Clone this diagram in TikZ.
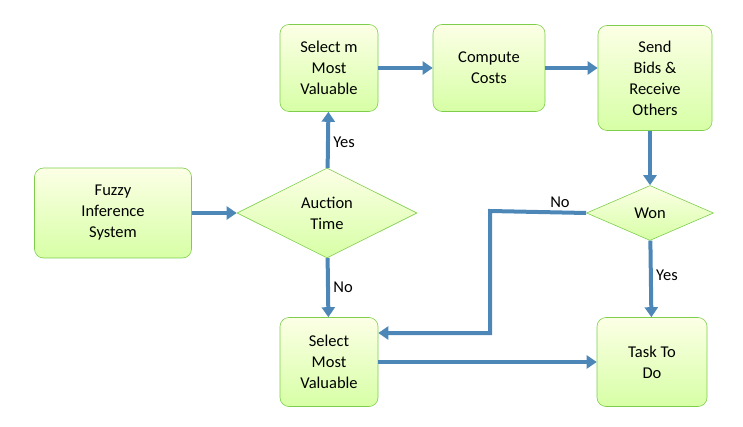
\documentclass[tikz,border=0pt]{standalone}
\usepackage{fontspec}
\setmainfont{Carlito}
\usetikzlibrary{shapes.geometric, arrows.meta}

\tikzset{
  box/.style={draw=green!45!olive!70, line width=0.6pt, rounded corners=9pt,
    top color=green!12!yellow!10, bottom color=green!45!yellow!35,
    align=center, font=\fontsize{16.5}{21}\selectfont},
  dia/.style={diamond, aspect=2.6, draw=green!45!olive!70, line width=0.6pt,
    top color=green!12!yellow!10, bottom color=green!45!yellow!35,
    align=center, inner sep=1pt, font=\fontsize{16.5}{21}\selectfont},
  flow/.style={draw=blue!45!cyan!60!black!70, line width=4pt,
    -{Triangle[length=10pt,width=13pt]}},
  lbl/.style={font=\fontsize{16.5}{21}\selectfont}
}

\begin{document}
\begin{tikzpicture}[x=1pt,y=-1pt]
  \useasboundingbox (0,0) rectangle (743,427);
  % nodes
  \node[box, minimum width=157, minimum height=90] (fis) at (113,213) {Fuzzy\\Inference\\System};
  \node[dia, minimum width=180, minimum height=90] (auction) at (327,213) {Auction\\Time};
  \node[box, minimum width=98, minimum height=87] (selm) at (329,68) {Select m\\Most\\Valuable};
  \node[box, minimum width=112, minimum height=87] (cost) at (489,68) {Compute\\Costs};
  \node[box, minimum width=114, minimum height=105] (send) at (655,78) {Send\\Bids \&\\Receive\\Others};
  \node[dia, minimum width=127, minimum height=55] (won) at (650,213) {Won};
  \node[box, minimum width=98, minimum height=89] (sel) at (329,362) {Select\\Most\\Valuable};
  \node[box, minimum width=110, minimum height=89] (task) at (652,362) {Task To\\Do};
  \coordinate (bend1) at (490,211);
  \coordinate (bend2) at (490,333);

  % connectors
  \draw[flow] (fis) -- (auction);
  \draw[flow] (auction) -- (selm) node[lbl, pos=0.45, right] {Yes};
  \draw[flow] (auction) -- (sel) node[lbl, pos=0.5, right] {No};
  \draw[flow] (selm) -- (cost);
  \draw[flow] (cost) -- (send.west |- cost);
  \draw[flow] (send.south -| won) -- (won);
  \draw[flow] (won) -- (task) node[lbl, pos=0.45, right] {Yes};
  \draw[flow] (won.west) -- (bend1) -- (bend2) -- (sel.east |- bend2);
  \node[lbl] (nolbl) at (560,202) {No};
  \draw[flow] (sel.east |- task) -- (task);
\end{tikzpicture}
\end{document}
